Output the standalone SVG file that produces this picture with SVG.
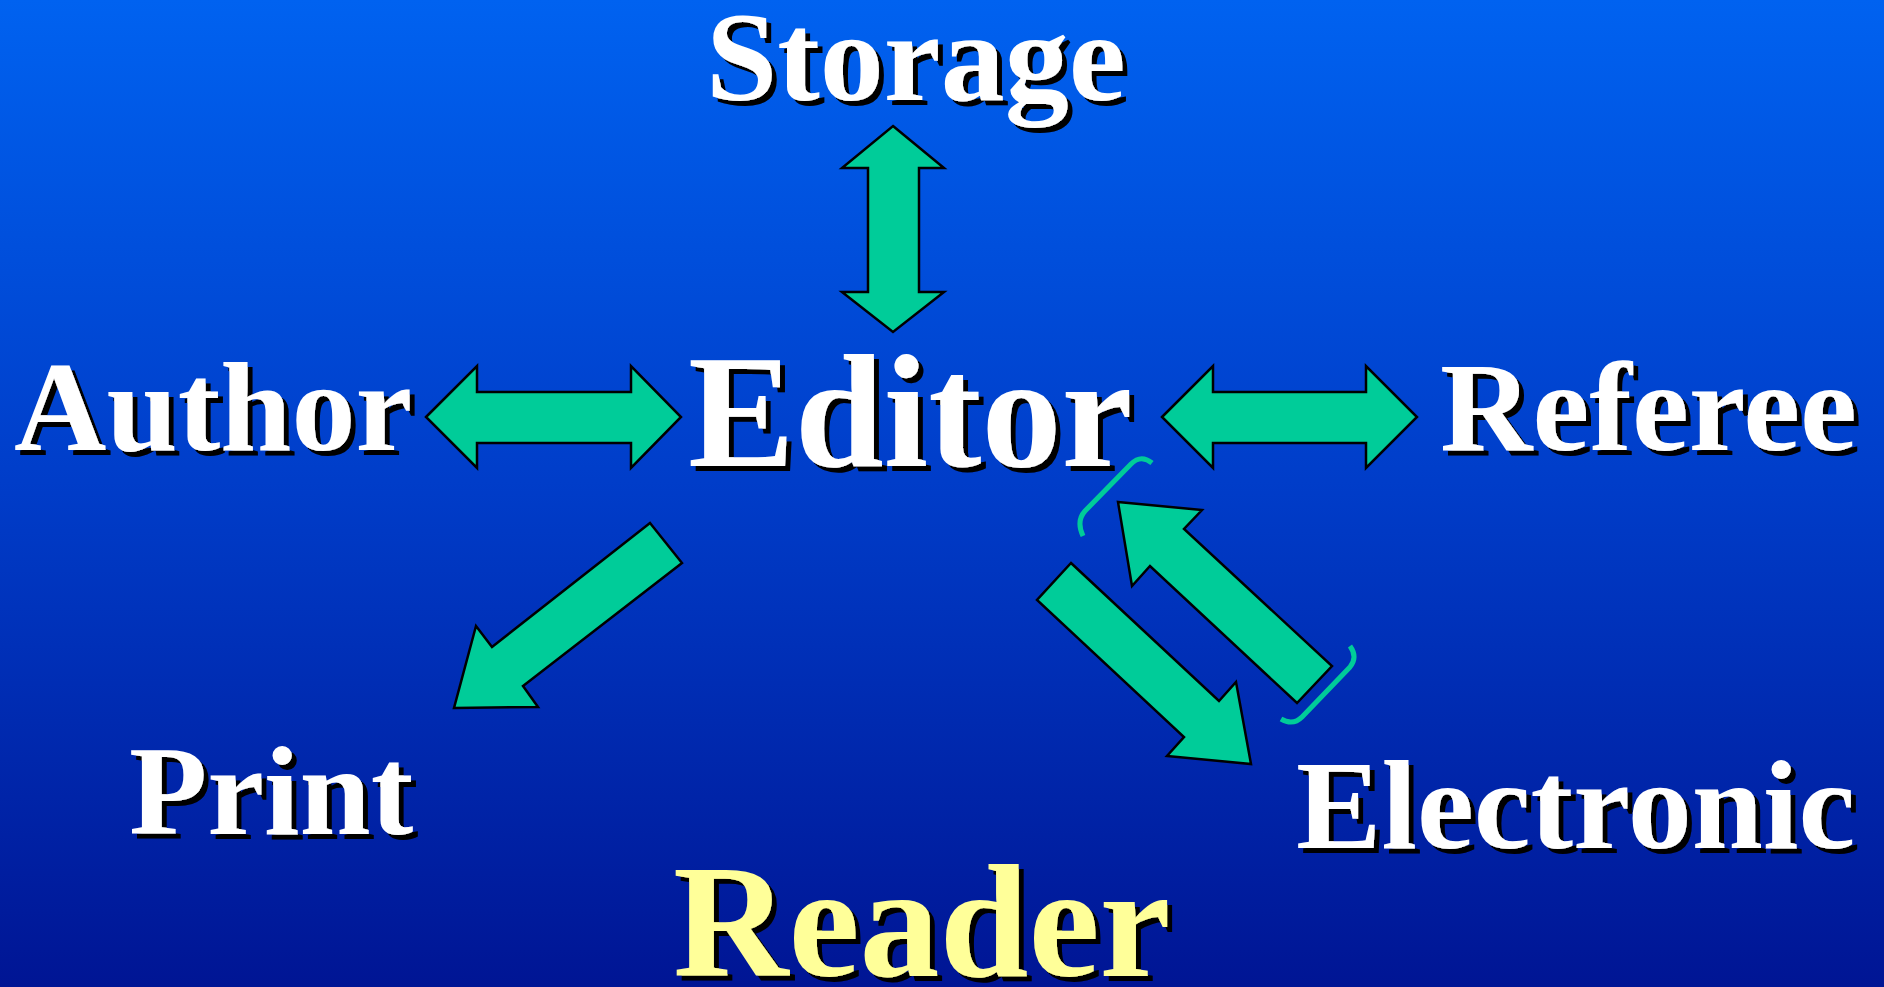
<svg xmlns="http://www.w3.org/2000/svg" width="1884" height="987" viewBox="0 0 1884 987">
<defs>
<linearGradient id="bg" x1="0" y1="0" x2="0" y2="1">
<stop offset="0" stop-color="#0062F0"/>
<stop offset="0.5" stop-color="#003CC8"/>
<stop offset="1" stop-color="#001594"/>
</linearGradient>
<filter id="shadow" x="-5%" y="-10%" width="115%" height="130%">
<feFlood flood-color="#000000" result="blk"/>
<feComposite in="blk" in2="SourceAlpha" operator="in" result="sa"/>
<feOffset in="sa" dx="5" dy="5" result="off"/>
<feMerge>
<feMergeNode in="off"/>
<feMergeNode in="SourceGraphic"/>
</feMerge>
</filter>
</defs>
<style>
.t{font-family:"Liberation Serif","Times New Roman",serif;font-weight:bold;filter:url(#shadow);}
.w{fill:#FFFFFF;}
.y{fill:#FFFF99;}
.big{font-size:160px;}
.mid{font-size:128px;}
.ar{fill:#00CC99;stroke:#000000;stroke-width:2.5;stroke-linejoin:miter;}
.br{fill:none;stroke:#00CC99;stroke-width:5;stroke-linecap:butt;}
</style>
<rect x="0" y="0" width="1884" height="987" fill="url(#bg)"/>
<g id="connectors">
<polygon class="ar" points="893,126 944,168 919,168 919,292 944,292 893,332 842,292 868,292 868,168 842,168"/>
<polygon class="ar" points="426,417 477,366 477,392 631,392 631,366 681,417 631,468 631,443 477,443 477,468"/>
<polygon class="ar" points="1162,417 1213,366 1213,392 1366,392 1366,366 1417,417 1366,468 1366,443 1213,443 1213,468"/>
<polygon class="ar" points="650,523 682,563 523,686 538,707 454,708 476,626 492,647"/>
<polygon class="ar" points="1071,563 1219,701 1236,682 1251,764 1167,756 1184,737 1037,600"/>
<polygon class="ar" points="1118,502 1202,510 1184,529 1332,666 1297,703 1150,566 1132,586"/>
<path class="br" d="M1152,463 Q1141,454 1131,464 L1085,511 Q1076,521 1083,536"/>
<path class="br" d="M1350,646 Q1358,657 1350,667 L1302,717 Q1293,726 1281,719"/>
</g>
<g id="storage">
<text class="t mid w" x="706" y="100">Storage</text>
</g>
<g id="author">
<text class="t mid w" x="14" y="450">Author</text>
</g>
<g id="editor">
<text class="t big w" x="688" y="466">Editor</text>
</g>
<g id="referee">
<text class="t mid w" x="1440" y="450">Referee</text>
</g>
<g id="print">
<text class="t mid w" x="129" y="834">Print</text>
</g>
<g id="electronic">
<text class="t mid w" x="1296" y="848">Electronic</text>
</g>
<g id="reader">
<text class="t big y" x="673" y="976">Reader</text>
</g>
</svg>
